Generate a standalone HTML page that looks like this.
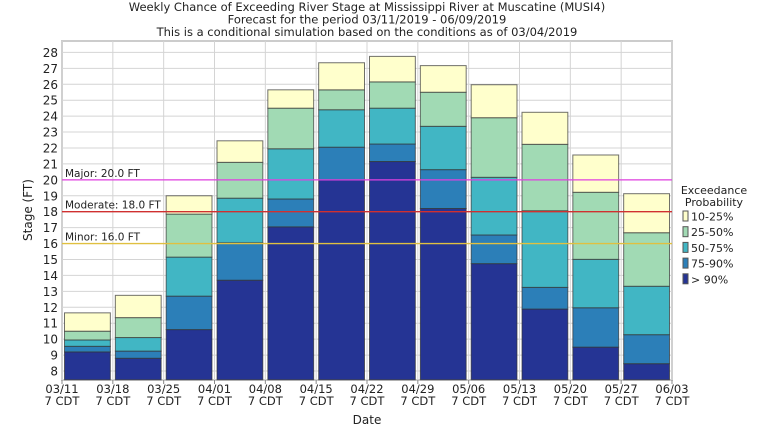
<!DOCTYPE html>
<html><head><meta charset="utf-8"><style>
body{margin:0;background:#fff;width:768px;height:432px;overflow:hidden;font-family:"DejaVu Sans","Liberation Sans",sans-serif}
svg text{font-family:"DejaVu Sans","Liberation Sans",sans-serif;fill:#222}
</style></head><body>
<svg id="c" width="768" height="432"></svg>
<script>
const categories=["03/11","03/18","03/25","04/01","04/08","04/15","04/22","04/29","05/06","05/13","05/20","05/27"];
const tickLabels=["03/11","03/18","03/25","04/01","04/08","04/15","04/22","04/29","05/06","05/13","05/20","05/27","06/03"];
const p90=[9.2,8.8,10.6,13.7,17.05,20.0,21.15,18.2,14.74,11.89,9.5,8.46];
const p75=[9.55,9.25,12.7,16.05,18.8,22.05,22.25,20.64,16.54,13.25,11.97,10.28];
const p50=[9.95,10.1,15.15,18.85,21.95,24.4,24.5,23.36,20.16,18.06,15.01,13.32];
const p25=[10.5,11.35,17.85,21.1,24.5,25.65,26.15,25.5,23.9,22.23,19.22,16.68];
const p10=[11.65,12.75,19.0,22.45,25.65,27.35,27.75,27.17,25.97,24.24,21.56,19.13];
const yTicks=[8,9,10,11,12,13,14,15,16,17,18,19,20,21,22,23,24,25,26,27,28];
const floods=[["Major: 20.0 FT",20,"#e040e0"],["Moderate: 18.0 FT",18,"#d03030"],["Minor: 16.0 FT",16,"#e0c040"]];
const series=[["> 90%",p90,"#253494"],["75-90%",p75,"#2c7fb8"],["50-75%",p50,"#41b6c4"],["25-50%",p25,"#a1dab4"],["10-25%",p10,"#ffffcc"]];
const L=62,R=672,T=41,B=380,ymin=7.45;
const y=v=>371-(v-8)*15.93;
const step=(R-L)/categories.length;
const x=i=>L+i*step;
const s=document.getElementById('c');const NS="http://www.w3.org/2000/svg";
function mk(t,a,txt){const e=document.createElementNS(NS,t);for(const k in a)e.setAttribute(k,a[k]);if(txt!==undefined)e.textContent=txt;s.appendChild(e);return e;}
let e;
e=mk('rect',{x:L,y:T,width:R-L,height:B-T,fill:'#fff',stroke:'#ccc','stroke-width':2});

yTicks.forEach(v=>{e=mk('line',{x1:L,x2:R,y1:y(v),y2:y(v),stroke:'#d4d4d4'});

e=mk('text',{x:L-4,y:y(v)+4.5,'text-anchor':'end','font-size':12},v);
});
tickLabels.forEach((t,i)=>{const xx=x(i);
e=mk('line',{x1:xx,x2:xx,y1:T,y2:B,stroke:'#d4d4d4'});

e=mk('line',{x1:xx,x2:xx,y1:B,y2:B+4,stroke:'#888'});

e=mk('text',{x:xx,y:393,'text-anchor':'middle','font-size':11.5},t);

e=mk('text',{x:xx,y:405,'text-anchor':'middle','font-size':11.5},"7 CDT");
});
categories.forEach((c,i)=>{const x0=x(i)+2.5,w=step-5;
series.forEach((sr,k)=>{const top=sr[1][i];const bot=k===0?ymin:series[k-1][1][i];
e=mk('rect',{x:x0,y:y(top),width:w,height:y(bot)-y(top),fill:sr[2],stroke:'#333','stroke-opacity':0.7,'stroke-width':1});
});});
floods.forEach(f=>{e=mk('line',{x1:L,x2:R,y1:y(f[1]),y2:y(f[1]),stroke:f[2],'stroke-width':1.3});

e=mk('text',{x:L+3,y:y(f[1])-3,'font-size':10.5,fill:'#333'},f[0]);
});
["Weekly Chance of Exceeding River Stage at Mississippi River at Muscatine (MUSI4)","Forecast for the period 03/11/2019 - 06/09/2019","This is a conditional simulation based on the conditions as of 03/04/2019"].forEach((t,i)=>{
e=mk('text',{x:367,y:11+i*12.5,'text-anchor':'middle','font-size':11.5},t);
});
e=mk('text',{x:32,y:210,'text-anchor':'middle','font-size':12,transform:'rotate(-90 32 210)'},"Stage (FT)");

e=mk('text',{x:367,y:424,'text-anchor':'middle','font-size':12},"Date");

e=mk('text',{x:714,y:194,'text-anchor':'middle','font-size':11},"Exceedance");

e=mk('text',{x:714,y:206,'text-anchor':'middle','font-size':11},"Probability");

series.slice().reverse().forEach((sr,j)=>{const yy=211+j*15.7;
e=mk('rect',{x:683,y:yy,width:5,height:10,fill:sr[2],stroke:'#555'});

e=mk('text',{x:691,y:yy+9.5,'font-size':11},sr[0]);
});
</script>
</body></html>
